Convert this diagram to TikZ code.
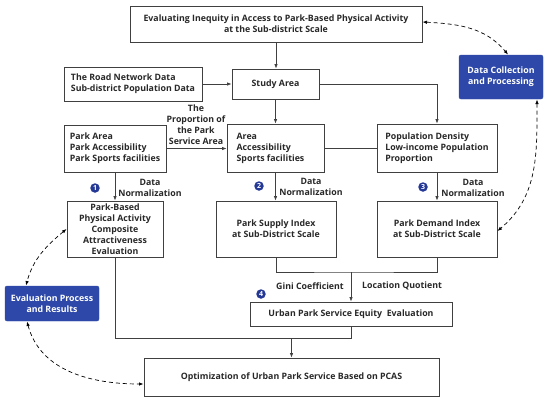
\documentclass[tikz,border=0pt]{standalone}
\usepackage{fontspec}
\setmainfont{Open Sans}
\usetikzlibrary{arrows.meta,positioning}
\definecolor{lineg}{RGB}{64,64,64}
\definecolor{boxblue}{RGB}{45,72,168}
\definecolor{badgeblue}{RGB}{36,56,150}
\definecolor{txt}{RGB}{40,40,40}
\tikzset{
  base/.style={font=\fontsize{8.8}{11}\selectfont\bfseries, text=txt},
  cbox/.style={base, draw=lineg, line width=0.8pt, align=center, inner sep=0pt},
  lbox/.style={base, draw=lineg, line width=0.8pt, align=left, inner sep=0pt},
  bluebox/.style={base, fill=boxblue, draw=boxblue, text=white, rounded corners=2pt, align=center, inner sep=0pt},
  lbl/.style={base, align=center, inner sep=0pt},
  arr/.style={draw=lineg, line width=0.8pt, -{Latex[length=4.5pt,width=3.5pt]}},
  ln/.style={draw=lineg, line width=0.8pt},
  darr/.style={draw=black, line width=0.7pt, dash pattern=on 4pt off 3pt, {Latex[length=4.5pt,width=3.5pt]}-{Latex[length=4.5pt,width=3.5pt]}},
  badge/.style={circle, fill=badgeblue, text=white, inner sep=0pt, minimum size=9.5pt, font=\fontsize{7}{7}\selectfont\bfseries}
}
\begin{document}
\begin{tikzpicture}[x=1pt,y=-1pt]
\useasboundingbox (0,0) rectangle (550,402);
% boxes
\node[cbox, minimum width=292pt, minimum height=36pt] (title) at (276,24) {Evaluating Inequity in Access to Park-Based Physical Activity\\at the Sub-district Scale};
\node[lbox, minimum width=138pt, minimum height=34pt] (road) at (133,84) {The Road Network Data\\Sub-district Population Data};
\node[cbox, minimum width=87pt, minimum height=30pt] (study) at (275.5,84) {Study Area};
\node[bluebox, minimum width=84pt, minimum height=44pt] (datacol) at (501,77) {Data Collection\\and Processing};
\node[lbox, minimum width=102pt, minimum height=47pt] (parkarea) at (115,148.5) {Park Area\\Park Accessibility\\Park Sports facilities};
\node[lbox, minimum width=97pt, minimum height=48pt] (area) at (275.5,148) {Area\\Accessibility\\Sports facilities\hspace*{10pt}};
\node[lbox, minimum width=120pt, minimum height=48pt] (popd) at (437,148) {Population Density\\Low-income Population\\Proportion};
\node[cbox, minimum width=96pt, minimum height=56pt] (comp) at (115,229) {Park-Based\\Physical Activity\\Composite\\Attractiveness\\Evaluation};
\node[cbox, minimum width=120pt, minimum height=56pt] (supply) at (276,229) {Park Supply Index\\at Sub-District Scale};
\node[cbox, minimum width=120pt, minimum height=56pt] (demand) at (437,229) {Park Demand Index\\at Sub-District Scale};
\node[cbox, minimum width=202pt, minimum height=24pt] (equity) at (351,314) {Urban Park Service Equity\ \ Evaluation};
\node[cbox, minimum width=295pt, minimum height=38pt] (opt) at (291.5,377) {Optimization of Urban Park Service Based on PCAS};
\node[bluebox, minimum width=94pt, minimum height=35pt] (evalp) at (52,303.5) {Evaluation Process\\and Results};
% labels
\node[lbl] (lprop) at (196,125) {The\\Proportion of\\the Park\\Service Area};
\node[lbl] (ldn1) at (150,187.5) {Data\\Normalization};
\node[lbl] (ldn2) at (311,186.5) {Data\\Normalization};
\node[lbl] (ldn3) at (473,187.5) {Data\\Normalization};
\node[lbl] (lgini) at (310,286) {Gini Coefficient};
\node[lbl] (lloc) at (402,286) {Location Quotient};
% badges
\node[badge] (b1) at (95,188) {1};
\node[badge] (b2) at (259,186) {2};
\node[badge] (b3) at (423,187) {3};
\node[badge] (b4) at (261,294) {4};
% connectors
\draw[arr] (title.south) -- (title.south |- study.north);
\draw[arr] (road.east) -- (study.west);
\draw[arr] (study.east) -| (popd.north);
\draw[arr] (study.south) -- (study.south |- area.north);
\draw[arr] (parkarea.east) -- (parkarea.east -| area.west);
\draw[ln] (area.east) -- (area.east -| popd.west);
\draw[arr] (parkarea.south) -- (parkarea.south |- comp.north);
\draw[arr] (area.south) -- (area.south |- supply.north);
\draw[arr] (popd.south) -- (popd.south |- demand.north);
\coordinate (j1) at (351,272);
\draw[ln] (supply.south) |- (j1) -| (demand.south);
\draw[arr] (j1) -- (j1 |- equity.north);
\coordinate (j2) at (351,338);
\draw[ln] (comp.south) |- (j2) -- (equity.south);
\draw[arr] (opt.north |- j2) -- (opt.north);
% dashed
\coordinate (d1a) at (422.5,22);
\coordinate (d1b) at (508,54.5);
\draw[darr] (d1a) to[out=-3,in=130] (d1b);
\coordinate (d2a) at (537,99.5);
\coordinate (d2b) at (497.5,231);
\draw[darr] (d2a) to[out=-90,in=40] (d2b);
\coordinate (d3a) at (66.5,229);
\coordinate (d3b) at (26,285.5);
\draw[darr] (d3a) to[out=220,in=75] (d3b);
\coordinate (d4a) at (27,321.5);
\coordinate (d4b) at (143.5,384);
\draw[darr] (d4a) to[out=-75,in=180] (d4b);
\end{tikzpicture}
\end{document}
